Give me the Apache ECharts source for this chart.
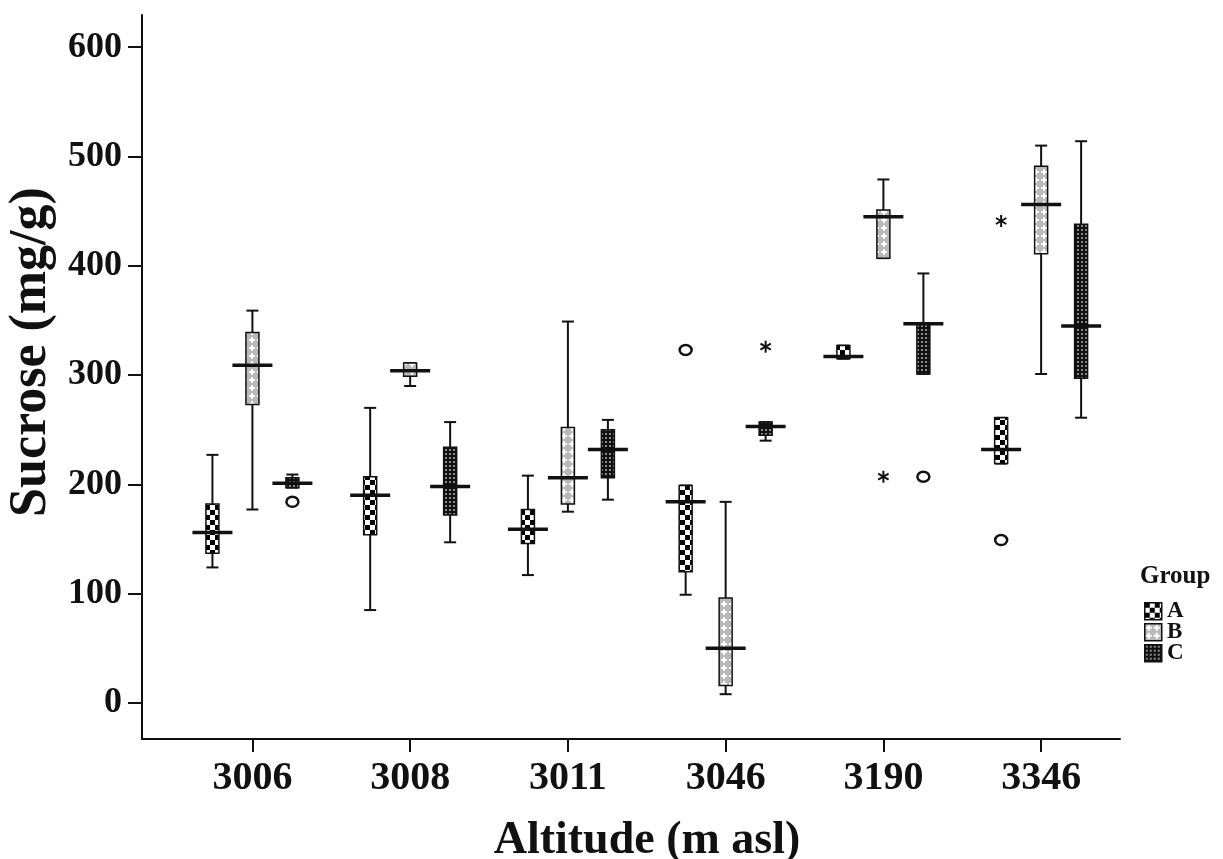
<!DOCTYPE html>
<html>
<head>
<meta charset="utf-8">
<script src="https://cdn.jsdelivr.net/npm/echarts@6/dist/echarts.min.js"></script>
<style>
  html, body { margin: 0; padding: 0; background: #fff; }
  #chart { width: 1223px; height: 859px; }
</style>
</head>
<body>
<div id="chart"></div>
<script>
// Altitude sites (x categories) and sampling groups
const altitudes = ['3006', '3008', '3011', '3046', '3190', '3346'];
const groups = ['A', 'B', 'C'];

// Box summaries per altitude: [lower whisker, Q1, median, Q3, upper whisker]
const boxA = [
  [124, 137, 156, 182, 227],
  [85, 154, 190, 207, 270],
  [117, 146, 159, 177, 208],
  [99, 120, 184, 199, 199],
  [315, 315, 317, 327, 327],
  [219, 219, 232, 261, 261]
];
const boxB = [
  [177, 273, 309, 339, 359],
  [290, 299, 304, 311, 311],
  [175, 182, 206, 252, 349],
  [8, 16, 50, 96, 184],
  [407, 407, 445, 451, 479],
  [301, 411, 456, 491, 510]
];
const boxC = [
  [197, 197, 201, 206, 209],
  [147, 172, 198, 234, 257],
  [186, 206, 232, 250, 259],
  [240, 245, 253, 257, 257],
  [301, 301, 347, 347, 393],
  [261, 297, 345, 438, 514]
];

// Outliers: [altitude index, value, kind] — 'o' = outlier, '*' = extreme
const outA = [[3, 323, 'o'], [5, 149, 'o'], [5, 441, '*']];
const outB = [[4, 207, '*']];
const outC = [[0, 184, 'o'], [3, 326, '*'], [4, 207, 'o']];

const yTicks = [0, 100, 200, 300, 400, 500, 600];
const xTicks = [0, 1, 2, 3, 4, 5];

// Horizontal shift of each group's box within an altitude slot (axis units)
const GROUP_SHIFT = [-0.2535, 0, 0.2535];

// Fill patterns for the three groups
function makeTile(size, draw) {
  const c = document.createElement('canvas');
  c.width = size; c.height = size;
  draw(c.getContext('2d'), size);
  return { image: c, repeat: 'repeat' };
}
const patA = makeTile(10, (g, s) => {
  g.fillStyle = '#fff'; g.fillRect(0, 0, s, s);
  g.fillStyle = '#000';
  g.fillRect(0, 0, 5, 5); g.fillRect(5, 5, 5, 5);
});
const patB = makeTile(8, (g, s) => {
  g.fillStyle = '#b9b9b9'; g.fillRect(0, 0, s, s);
  g.fillStyle = '#fff';
  g.fillRect(3, 1, 2, 6); g.fillRect(1, 3, 6, 2);
});
const patC = makeTile(4, (g, s) => {
  g.fillStyle = '#111'; g.fillRect(0, 0, s, s);
  g.fillStyle = '#8a8a8a';
  g.fillRect(1, 1, 2, 2);
});
const patterns = [patA, patB, patC];

const FONT = 'Liberation Serif';
const INK = '#111';

function boxRenderer(pattern) {
  return function (params, api) {
    const x = api.value(0);
    const lo = api.coord([x, api.value(1)]);
    const q1 = api.coord([x, api.value(2)]);
    const md = api.coord([x, api.value(3)]);
    const q3 = api.coord([x, api.value(4)]);
    const hi = api.coord([x, api.value(5)]);
    const cx = lo[0];
    const line = { stroke: INK, lineWidth: 2 };
    return {
      type: 'group',
      children: [
        { type: 'line', shape: { x1: cx, y1: hi[1], x2: cx, y2: lo[1] }, style: line },
        { type: 'line', shape: { x1: cx - 6, y1: hi[1], x2: cx + 6, y2: hi[1] }, style: line },
        { type: 'line', shape: { x1: cx - 6, y1: lo[1], x2: cx + 6, y2: lo[1] }, style: line },
        {
          type: 'rect',
          shape: { x: cx - 6.5, y: q3[1], width: 13, height: Math.max(q1[1] - q3[1], 1) },
          style: { fill: pattern, stroke: INK, lineWidth: 1.5 }
        },
        { type: 'line', shape: { x1: cx - 20, y1: md[1], x2: cx + 20, y2: md[1] }, style: { stroke: INK, lineWidth: 3.5 } }
      ]
    };
  };
}

function outlierRenderer(params, api) {
  const p = api.coord([api.value(0), api.value(1)]);
  const kind = api.value(2);
  if (kind === 'o') {
    return {
      type: 'ellipse',
      shape: { cx: p[0], cy: p[1], rx: 6, ry: 5 },
      style: { fill: 'none', stroke: INK, lineWidth: 2.5 }
    };
  }
  const r = 6;
  const arms = [90, 30, 150].map(a => {
    const t = a * Math.PI / 180;
    return {
      type: 'line',
      shape: { x1: p[0] - r * Math.cos(t), y1: p[1] - r * Math.sin(t), x2: p[0] + r * Math.cos(t), y2: p[1] + r * Math.sin(t) },
      style: { stroke: INK, lineWidth: 2 }
    };
  });
  return { type: 'group', children: arms };
}

const boxSets = [boxA, boxB, boxC];
const outSets = [outA, outB, outC];

const series = [];
groups.forEach((g, gi) => {
  series.push({
    name: g,
    type: 'custom',
    renderItem: boxRenderer(patterns[gi]),
    encode: { x: 0, y: [1, 2, 3, 4, 5] },
    data: boxSets[gi].map((b, i) => [i + GROUP_SHIFT[gi]].concat(b)),
    z: 3
  });
  series.push({
    name: g + ' outliers',
    type: 'custom',
    renderItem: outlierRenderer,
    encode: { x: 0, y: 1 },
    dimensions: ['x', 'y', { name: 'kind', type: 'ordinal' }],
    data: outSets[gi].map(o => [o[0] + GROUP_SHIFT[gi], o[1], o[2]]),
    z: 4
  });
});

// Legend drawn as swatches beside the plot
const legendItems = [];
legendItems.push({
  type: 'text', left: 1140, top: 564,
  style: { text: 'Group', font: 'bold 25px "' + FONT + '"', fill: INK }
});
groups.forEach((g, gi) => {
  const top = 602 + gi * 21;
  legendItems.push({
    type: 'rect', left: 1144, top: top,
    shape: { x: 0, y: 0, width: 17, height: 17 },
    style: { fill: patterns[gi], stroke: INK, lineWidth: 1.5 }
  });
  legendItems.push({
    type: 'text', left: 1167, top: top - 2,
    style: { text: g, font: 'bold 23px "' + FONT + '"', fill: INK }
  });
});

const chart = echarts.init(document.getElementById('chart'), null, { renderer: 'canvas' });
chart.setOption({
  backgroundColor: '#fff',
  animation: false,
  grid: { left: 142, top: 15, width: 978, height: 724, containLabel: false, outerBoundsMode: 'none' },
  xAxis: {
    type: 'value',
    min: -0.7,
    max: 5.5,
    name: 'Altitude (m asl)',
    nameLocation: 'middle',
    nameGap: 79,
    nameTextStyle: { fontFamily: FONT, fontWeight: 'bold', fontSize: 46, color: INK, padding: [0, 0, 0, 32] },
    axisLine: { show: true, onZero: false, lineStyle: { color: INK, width: 2 } },
    axisTick: { show: true, length: 13, customValues: xTicks, lineStyle: { color: INK, width: 2 } },
    axisLabel: {
      customValues: xTicks,
      formatter: v => altitudes[Math.round(v)],
      fontFamily: FONT, fontWeight: 'bold', fontSize: 40, color: INK, margin: 20
    },
    splitLine: { show: false }
  },
  yAxis: {
    type: 'value',
    min: -33,
    max: 629.5,
    name: 'Sucrose (mg/g)',
    nameLocation: 'middle',
    nameRotate: 90,
    nameGap: 82,
    nameTextStyle: { fontFamily: FONT, fontWeight: 'bold', fontSize: 52, color: INK, padding: [0, 0, 0, 50] },
    axisLine: { show: true, onZero: false, lineStyle: { color: INK, width: 2 } },
    axisTick: { show: true, length: 14, customValues: yTicks, lineStyle: { color: INK, width: 2 } },
    axisLabel: {
      customValues: yTicks,
      fontFamily: FONT, fontWeight: 'bold', fontSize: 36, color: INK, margin: 20
    },
    splitLine: { show: false }
  },
  graphic: legendItems,
  series: series
});
</script>
</body>
</html>
